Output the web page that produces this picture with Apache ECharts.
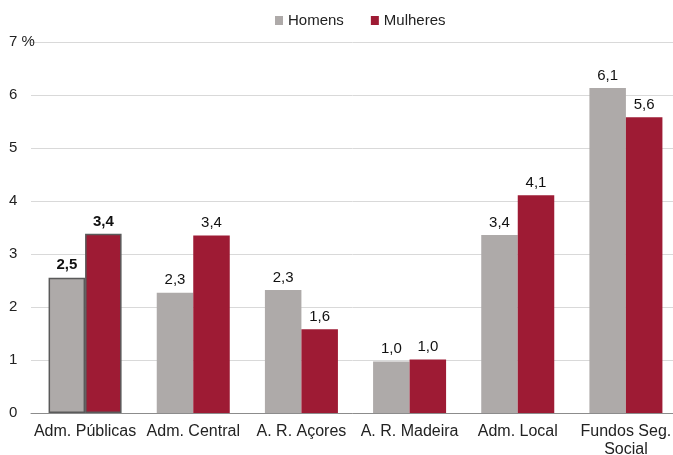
<!DOCTYPE html>
<html>
<head>
<meta charset="utf-8">
<script src="https://cdn.jsdelivr.net/npm/echarts@6/dist/echarts.min.js"></script>
<style>
html, body { margin: 0; padding: 0; background: #fff; }
#main { width: 673px; height: 455px; }
</style>
</head>
<body>
<div id="main"></div>
<script>
// categorias e valores (%)
var categories = ['Adm. Públicas', 'Adm. Central', 'A. R. Açores', 'A. R. Madeira', 'Adm. Local', 'Fundos Seg.\nSocial'];
var homens = [2.55, 2.27, 2.32, 0.97, 3.36, 6.13];
var mulheres = [3.38, 3.35, 1.58, 1.01, 4.11, 5.58];
var homensLabels = ['2,5', '2,3', '2,3', '1,0', '3,4', '6,1'];
var mulheresLabels = ['3,4', '3,4', '1,6', '1,0', '4,1', '5,6'];
var yTicks = [0, 1, 2, 3, 4, 5, 6, 7];

var GREY = '#aeaaa9';
var RED = '#9e1b34';
var FONT = '"Liberation Sans", Arial, sans-serif';

function buildData(values, labels) {
  return values.map(function (v, i) {
    var d = { value: v, label: { formatter: labels[i] } };
    if (i === 0) {
      // primeiro grupo destacado
      d.itemStyle = { borderColor: '#5a5a5a', borderWidth: 1.5 };
      d.label.fontWeight = 'bold';
    }
    return d;
  });
}

var myChart = echarts.init(document.getElementById('main'));
var option = {
  animation: false,
  textStyle: { fontFamily: FONT },
  legend: {
    top: 8,
    left: 270,
    icon: 'rect',
    itemWidth: 8,
    itemHeight: 9,
    itemGap: 27,
    textStyle: { fontSize: 15, color: '#222', fontFamily: FONT },
    data: ['Homens', 'Mulheres']
  },
  // a área do gráfico estende-se um pouco para lá da margem direita
  grid: { left: 31, right: -7, top: 42, bottom: 42, outerBoundsMode: 'none' },
  xAxis: {
    type: 'category',
    data: categories,
    axisLine: { lineStyle: { color: '#8c8c8c', width: 1 } },
    axisTick: { show: false },
    axisLabel: { fontSize: 16, color: '#222', margin: 10, lineHeight: 18, fontFamily: FONT, interval: 0 }
  },
  yAxis: {
    type: 'value',
    min: yTicks[0],
    max: yTicks[yTicks.length - 1],
    interval: 1,
    axisLine: { show: false },
    axisTick: { show: false },
    splitLine: { lineStyle: { color: '#d9d9d9', width: 1 } },
    axisLabel: {
      fontSize: 15, color: '#222', margin: 22, align: 'left', fontFamily: FONT,
      formatter: function (v) { return v === 7 ? '7 %' : String(v); }
    }
  },
  series: [
    {
      name: 'Homens',
      type: 'bar',
      barGap: '0%',
      barCategoryGap: '32.5%',
      itemStyle: { color: GREY },
      label: { show: true, position: 'top', distance: 5, fontSize: 15, color: '#111', fontFamily: FONT },
      data: buildData(homens, homensLabels)
    },
    {
      name: 'Mulheres',
      type: 'bar',
      itemStyle: { color: RED },
      label: { show: true, position: 'top', distance: 5, fontSize: 15, color: '#111', fontFamily: FONT },
      data: buildData(mulheres, mulheresLabels)
    }
  ]
};
myChart.setOption(option);
</script>
</body>
</html>
